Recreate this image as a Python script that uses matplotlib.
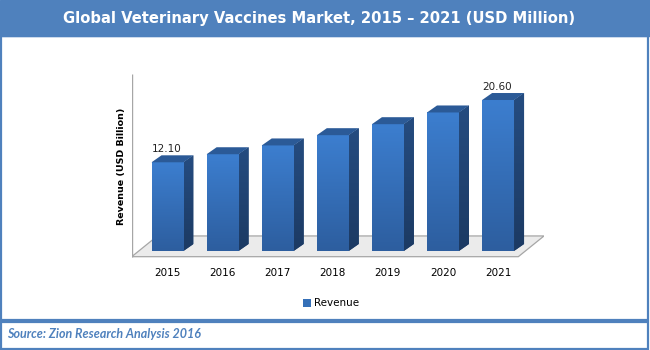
import matplotlib
matplotlib.use('Agg')
import matplotlib.pyplot as plt
import numpy as np
from matplotlib.patches import Rectangle, Polygon
from matplotlib.colors import to_rgb

# ---- data ----
years = ['2015', '2016', '2017', '2018', '2019', '2020', '2021']
revenue = [12.10, 13.2, 14.4, 15.8, 17.3, 18.9, 20.60]
shown_labels = ['12.10', '', '', '', '', '', '20.60']
title = 'Global Veterinary Vaccines Market, 2015 \u2013 2021 (USD Million)'
ylabel = 'Revenue (USD Billion)'
series_name = 'Revenue'
source = 'Source: Zion Research Analysis 2016'

BLUE = '#4F81BD'
W, H = 650, 350
fig = plt.figure(figsize=(6.5, 3.5), dpi=100)

# ---- frame / background ----
bg = fig.add_axes([0, 0, 1, 1])
bg.set_xlim(0, W)
bg.set_ylim(H, 0)
bg.axis('off')
bg.add_patch(Rectangle((0, 0), W, 35.7, color=BLUE, zorder=1))
bg.add_patch(Rectangle((0.8, 35.7), W - 2.8, 283.8, fill=False, ec=BLUE, lw=1.6, zorder=1))
bg.add_patch(Rectangle((0.8, 322.0), W - 2.8, 27.0, fill=False, ec=BLUE, lw=1.6, zorder=1))
bg.text(W / 2 - 6, 18.5, title, color='white', fontsize=10.6, fontweight='bold',
        ha='center', va='center', family='DejaVu Sans')
bg.text(7.5, 334.5, source, color=BLUE, fontsize=9.0, fontweight='bold', style='italic',
        ha='left', va='center', family=['Lato', 'DejaVu Sans'])

# ---- chart axes ----
L_PX, R_PX, T_PX, B_PX = 131.7, 544.0, 74.0, 258.3
ax = fig.add_axes([L_PX / W, (H - B_PX) / H, (R_PX - L_PX) / W, (B_PX - T_PX) / H])
ax.axis('off')
xpos = np.arange(len(years))
x0, x1 = -0.65, 6.833
y0, y1 = -1.0, 24.15
px_x = (R_PX - L_PX) / (x1 - x0)
px_y = (B_PX - T_PX) / (y1 - y0)

bar_w = 0.58
dx = 10.0 / px_x
dy = 7.0 / px_y

# floor slab
f_front, f_back = -0.78, 2.05
f_shift = 25.7 / px_x
f_right = 6.367
floor = Polygon([(x0, f_front), (f_right, f_front), (f_right + f_shift, f_back),
                 (x0 + f_shift, f_back)], closed=True, fc='#EBEBEB', ec='#A6A6A6',
                lw=0.9, zorder=1)
ax.add_patch(floor)
# axis line
ax.plot([x0, x0], [f_front, y1], color='#A6A6A6', lw=1.0, zorder=1, solid_capstyle='butt')


def grad(c1, c2, n=64):
    a = np.array(to_rgb(c1))
    b = np.array(to_rgb(c2))
    t = np.linspace(0, 1, n)[:, None]
    return (a * (1 - t) + b * t)[:, None, :]


bars = ax.bar(xpos, revenue, width=bar_w, color='#3570B8', label=series_name, zorder=3,
              linewidth=0)
front_img = grad('#3C7ECF', '#2D5E9F')
side_img = grad('#254C80', '#1C3A63')
for rect, v in zip(bars, revenue):
    xl = rect.get_x()
    xr = xl + rect.get_width()
    im = ax.imshow(front_img, extent=(xl, xr, 0, v), aspect='auto', origin='upper',
                   zorder=3.1, interpolation='bilinear')
    im.set_clip_path(rect)
    side = Polygon([(xr, 0), (xr, v), (xr + dx, v + dy), (xr + dx, dy)], closed=True,
                   fc='#234876', ec='none', zorder=3)
    ax.add_patch(side)
    im2 = ax.imshow(side_img, extent=(xr, xr + dx, 0, v + dy), aspect='auto',
                    origin='upper', zorder=3.05, interpolation='bilinear')
    im2.set_clip_path(side)
    top = Polygon([(xl, v), (xr, v), (xr + dx, v + dy), (xl + dx, v + dy)], closed=True,
                  fc='#2B5A97', ec='none', zorder=3.2)
    ax.add_patch(top)

for x, v, lab in zip(xpos, revenue, shown_labels):
    if lab:
        ax.text(x - 0.02, v + dy + 6.5 / px_y, lab, ha='center', va='center',
                fontsize=7.5, color='#222222')

for x, yr in zip(xpos, years):
    ax.text(x, -3.0, yr, ha='center', va='center', fontsize=7.5, color='black',
            clip_on=False)

ax.set_xlim(x0, x1)
ax.set_ylim(y0, y1)

bg.text(121.7, 166.5, ylabel, rotation=90, ha='center', va='center', fontsize=6.8,
        fontweight='bold', color='black')

leg = fig.legend(handles=[bars], labels=[series_name], loc='center',
                 bbox_to_anchor=(331 / W, 1 - 303.5 / H), frameon=False, fontsize=7.5,
                 handlelength=0.75, handleheight=0.75, handletextpad=0.35,
                 borderpad=0, borderaxespad=0)

fig.savefig('out.png', dpi=100)
